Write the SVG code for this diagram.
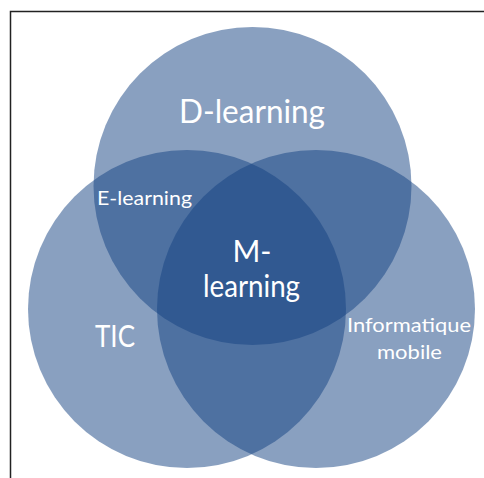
<svg xmlns="http://www.w3.org/2000/svg" width="484" height="478" viewBox="0 0 484 478">
<style>
.c{fill:rgb(20,65,130);fill-opacity:0.5}
.t{fill:#fff;font-family:Lato,"Open Sans","Liberation Sans",sans-serif;text-anchor:middle}
.frame{stroke:#222;stroke-width:1.5;fill:none}
</style>
<rect width="484" height="478" fill="#fff"/>
<path class="frame" d="M10.5,478V11.5H484"/>
<g id="circles">
<g id="d-learning-circle"><circle class="c" cx="252.5" cy="186" r="159"/></g>
<g id="tic-circle"><circle class="c" cx="187" cy="309" r="159"/></g>
<g id="info-circle"><circle class="c" cx="316" cy="309" r="159"/></g>
</g>
<g id="d-learning"><text class="t" x="252" y="123" font-size="32" textLength="146" lengthAdjust="spacingAndGlyphs">D-learning</text></g>
<g id="e-learning"><text class="t" x="144.5" y="205" font-size="20" textLength="95" lengthAdjust="spacingAndGlyphs">E-learning</text></g>
<g id="m-learning"><text class="t" font-size="30"><tspan x="252" y="262">M-</tspan><tspan x="251.5" y="297" textLength="97" lengthAdjust="spacingAndGlyphs">learning</tspan></text></g>
<g id="tic"><text class="t" x="115" y="347" font-size="31" textLength="40" lengthAdjust="spacingAndGlyphs">TIC</text></g>
<g id="informatique"><text class="t" font-size="20"><tspan x="409" y="332" textLength="124" lengthAdjust="spacingAndGlyphs">Informatique</tspan><tspan x="409.5" y="359" textLength="65" lengthAdjust="spacingAndGlyphs">mobile</tspan></text></g>
</svg>
